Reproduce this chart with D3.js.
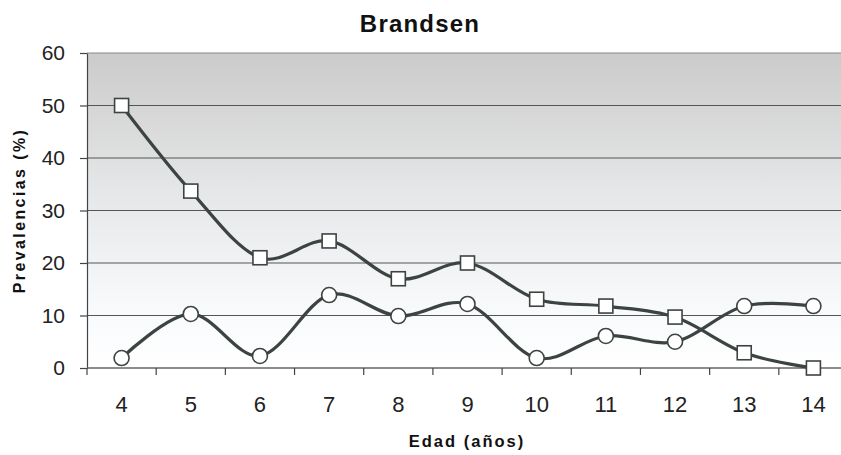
<!DOCTYPE html>
<html>
<head>
<meta charset="utf-8">
<script src="https://cdn.jsdelivr.net/npm/d3@7"></script>
<style>
  html, body { margin: 0; padding: 0; background: #fff; }
  svg { display: block; font-family: "Liberation Sans", Arial, sans-serif; }
</style>
</head>
<body>
<svg id="chart" width="841" height="455"></svg>
<script>
// Ages (years) and prevalence (%) for each series
const ages = [4, 5, 6, 7, 8, 9, 10, 11, 12, 13, 14];
const seriesSquares = [50, 33.7, 21, 24.2, 17, 20, 13.1, 11.8, 9.7, 2.9, 0];
const seriesCircles = [1.9, 10.3, 2.3, 13.9, 9.9, 12.2, 1.9, 6.1, 5, 11.8, 11.8];
const yTicks = [0, 10, 20, 30, 40, 50, 60];

const svg = d3.select("#chart");
const margin = { left: 87, top: 53, right: -7, bottom: 87 };
const W = 841, H = 455;
const plotW = W - margin.left - margin.right;
const plotH = H - margin.top - margin.bottom;

const x = d3.scaleBand().domain(ages).range([margin.left, margin.left + plotW]).padding(0);
const y = d3.scaleLinear().domain([0, 60]).range([margin.top + plotH, margin.top]);
const cx = d => x(d) + x.bandwidth() / 2;

// Stepped grey-to-white background
const defs = svg.append("defs");
const grad = defs.append("linearGradient").attr("id", "bg").attr("x1", 0).attr("y1", 0).attr("x2", 0).attr("y2", 1);
grad.append("stop").attr("offset", "0%").attr("stop-color", "#cbcbcb");
grad.append("stop").attr("offset", "45%").attr("stop-color", "#e6e7e8");
grad.append("stop").attr("offset", "80%").attr("stop-color", "#f7f9fb");
grad.append("stop").attr("offset", "100%").attr("stop-color", "#ffffff");

svg.append("rect")
  .attr("x", margin.left).attr("y", margin.top)
  .attr("width", plotW).attr("height", plotH)
  .attr("fill", "url(#bg)");

// Horizontal gridlines
svg.append("g").selectAll("line").data(yTicks.filter(t => t > 0)).join("line")
  .attr("x1", margin.left).attr("x2", margin.left + plotW)
  .attr("y1", d => y(d)).attr("y2", d => y(d))
  .attr("stroke", d => d === 60 ? "#8a8a8a" : "#555")
  .attr("stroke-width", 1.2);

// Y axis
const yAxis = d3.axisLeft(y).tickValues(yTicks).tickSize(7).tickPadding(15).tickSizeOuter(0);
const gy = svg.append("g").attr("transform", `translate(${margin.left},0)`).call(yAxis);
gy.select(".domain").attr("stroke", "#444").attr("stroke-width", 1.2);
gy.selectAll(".tick line").attr("stroke", "#444").attr("stroke-width", 1.2);
gy.selectAll(".tick text").attr("font-size", 21).attr("fill", "#222")
  .attr("font-family", "Liberation Sans, Arial, sans-serif");

// X axis: ticks at category boundaries, labels at centres
const xBase = margin.top + plotH;
svg.append("line").attr("x1", margin.left).attr("x2", margin.left + plotW)
  .attr("y1", xBase).attr("y2", xBase).attr("stroke", "#666").attr("stroke-width", 1.5);
const bounds = ages.map(a => x(a)).concat([margin.left + plotW]);
svg.append("g").selectAll("line").data(bounds).join("line")
  .attr("x1", d => d).attr("x2", d => d)
  .attr("y1", xBase).attr("y2", xBase + 7)
  .attr("stroke", "#444").attr("stroke-width", 1.2);
svg.append("g").selectAll("text").data(ages).join("text")
  .attr("x", d => cx(d)).attr("y", xBase + 44)
  .attr("text-anchor", "middle").attr("font-size", 22).attr("fill", "#222")
  .text(d => d);

// Series lines
const line = d3.line().x((d, i) => cx(ages[i])).y(d => y(d)).curve(d3.curveCardinal.tension(0));
const lineColor = "#3c4441";
[seriesSquares, seriesCircles].forEach(s => {
  svg.append("path").attr("d", line(s)).attr("fill", "none")
    .attr("stroke", lineColor).attr("stroke-width", 3.2)
    .attr("stroke-linejoin", "round").attr("stroke-linecap", "round");
});

// Markers
const sq = 14;
svg.append("g").selectAll("rect").data(seriesSquares).join("rect")
  .attr("x", (d, i) => cx(ages[i]) - sq / 2).attr("y", d => y(d) - sq / 2)
  .attr("width", sq).attr("height", sq)
  .attr("fill", "#fff").attr("stroke", "#3c4441").attr("stroke-width", 1.6);
svg.append("g").selectAll("circle").data(seriesCircles).join("circle")
  .attr("cx", (d, i) => cx(ages[i])).attr("cy", d => y(d)).attr("r", 7.5)
  .attr("fill", "#fff").attr("stroke", "#3c4441").attr("stroke-width", 1.6);

// Titles
svg.append("text").attr("x", 420).attr("y", 32).attr("text-anchor", "middle")
  .attr("font-size", 24).attr("font-weight", "bold").attr("letter-spacing", 1.2)
  .attr("fill", "#111").text("Brandsen");
svg.append("text").attr("x", 467).attr("y", 447).attr("text-anchor", "middle")
  .attr("font-size", 16.5).attr("font-weight", "bold").attr("letter-spacing", 2)
  .attr("fill", "#111").text("Edad (años)");
svg.append("text").attr("transform", `translate(25,${margin.top + plotH / 2}) rotate(-90)`)
  .attr("text-anchor", "middle")
  .attr("font-size", 16).attr("font-weight", "bold").attr("letter-spacing", 2.4)
  .attr("fill", "#111").text("Prevalencias (%)");
</script>
</body>
</html>
